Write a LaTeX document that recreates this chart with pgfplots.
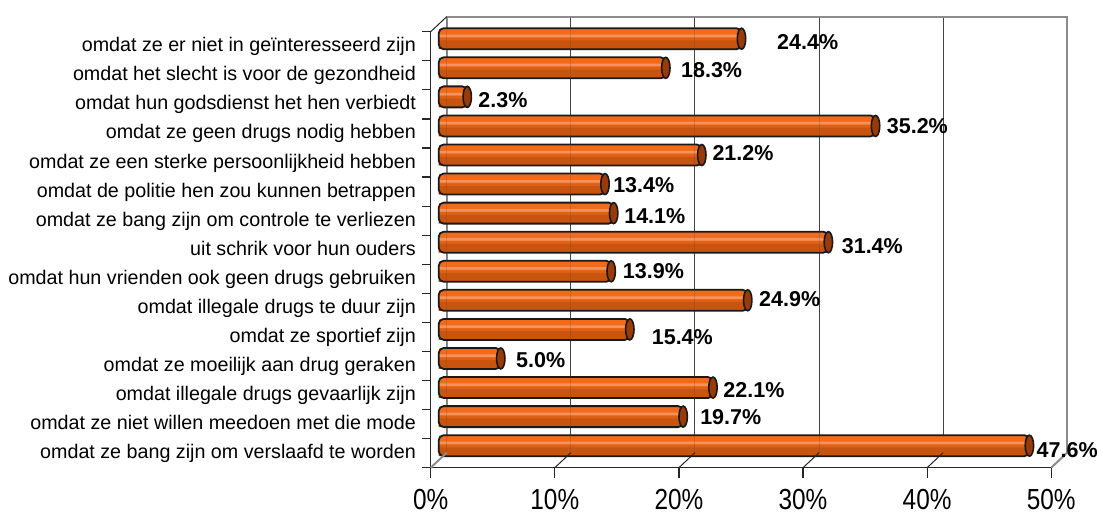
\documentclass[border=0pt]{standalone}
\usepackage{fontspec}
\setmainfont{Liberation Sans}
\usepackage{graphicx}
\usepackage{pgfplots}
\usepackage{pgfplotstable}
\pgfplotsset{compat=1.18}

\definecolor{barTop}{HTML}{F56A18}
\definecolor{barLow}{HTML}{C9540E}
\definecolor{barMid}{HTML}{DE6017}
\definecolor{barHi}{HTML}{F29462}
\definecolor{capC}{HTML}{9A3A08}
\definecolor{wallGrey}{HTML}{8C8C8C}
\definecolor{gridGrey}{HTML}{444444}

% y = row from the bottom, val = percentage
\pgfplotstableread{
y  val
1  47.6
2  19.7
3  22.1
4  5.0
5  15.4
6  24.9
7  13.9
8  31.4
9  14.1
10 13.4
11 21.2
12 35.2
13 2.3
14 18.3
15 24.4
}\drugdata

\begin{document}
\begin{tikzpicture}
\useasboundingbox (0,0) rectangle (1103pt,515pt);
\begin{axis}[
    at={(438.7pt,54.8pt)}, anchor=south west,
    scale only axis,
    width=620.5pt, height=436pt,
    xmin=0, xmax=50,
    ymin=0.5, ymax=15.5,
    axis line style={draw=none},
    tick style={draw=none},
    xtick={0,10,20,30,40,50},
    xticklabels={0\%,10\%,20\%,30\%,40\%,50\%},
    xticklabel style={anchor=north, inner sep=0pt, xshift=-8pt, yshift=-29pt,
        font=\fontsize{29}{32}\selectfont, xscale=0.84},
    ytick={1,...,15},
    yticklabels={
        omdat ze bang zijn om verslaafd te worden,
        omdat ze niet willen meedoen met die mode,
        omdat illegale drugs gevaarlijk zijn,
        omdat ze moeilijk aan drug geraken,
        omdat ze sportief zijn,
        omdat illegale drugs te duur zijn,
        omdat hun vrienden ook geen drugs gebruiken,
        uit schrik voor hun ouders,
        omdat ze bang zijn om controle te verliezen,
        omdat de politie hen zou kunnen betrappen,
        omdat ze een sterke persoonlijkheid hebben,
        omdat ze geen drugs nodig hebben,
        omdat hun godsdienst het hen verbiedt,
        omdat het slecht is voor de gezondheid,
        omdat ze er niet in geïnteresseerd zijn},
    yticklabel style={anchor=base east, inner sep=0pt, xshift=-22.7pt, yshift=-13pt,
        font=\fontsize{19.7}{22}\selectfont},
    clip=false,
    every axis plot/.append style={xbar, bar width=21pt, bar shift=0pt},
]

% --- back wall (drawn first, sits behind the bars) ---
\foreach \g in {10,20,30,40} {
  \edef\tmp{\noexpand\draw[gridGrey, line width=1pt]
    ([shift={(8pt,7.5pt)}]axis cs:\g,0.5) -- ([shift={(8pt,7.5pt)}]axis cs:\g,15.5);}
  \tmp
}
\draw[wallGrey, line width=2pt]
    ([shift={(8pt,7.5pt)}]axis cs:0,0.5) -- ([shift={(8pt,7.5pt)}]axis cs:0,15.5)
    -- ([shift={(8pt,7.5pt)}]axis cs:50,15.5) -- ([shift={(8pt,7.5pt)}]axis cs:50,0.5);

% --- bars: stacked stripes give the cylinder look ---
\addplot[fill=barTop, draw=none, rounded corners=5pt] table[x=val, y=y] {\drugdata};
\addplot[fill=barLow, draw=none, bar width=10pt, bar shift=-5.5pt] table[x=val, y=y] {\drugdata};
\addplot[fill=barMid, draw=none, bar width=2.5pt, bar shift=-0.5pt] table[x=val, y=y] {\drugdata};
\addplot[fill=barHi, draw=none, bar width=2.5pt, bar shift=2.8pt] table[x=val, y=y] {\drugdata};
\addplot[fill=none, draw=black!90, line width=1.8pt, rounded corners=5pt] table[x=val, y=y] {\drugdata};

% --- end caps of the cylinders ---
\addplot[xbar=false, only marks, mark=*, mark size=10.5pt,
         mark options={xscale=0.4, fill=capC, draw=black!90, line width=1.6pt}]
    table[x=val, y=y] {\drugdata};

% grid shows faintly through the bars
\foreach \g in {0,10,20,30} {
  \edef\tmp{\noexpand\draw[gridGrey, line width=1pt, opacity=0.22]
    ([shift={(8pt,7.5pt)}]axis cs:\g,0.5) -- ([shift={(8pt,7.5pt)}]axis cs:\g,15.5);}
  \tmp
}

% --- front frame: left wall edge, floor edge, ticks, floor diagonals ---
\draw[black!85, line width=1.2pt]
    ([shift={(-8pt,-7.5pt)}]axis cs:0,15.5) -- ([shift={(-8pt,-7.5pt)}]axis cs:0,0.5)
    -- ([shift={(-8pt,-7.5pt)}]axis cs:50,0.5);
\foreach \t in {0.5,1.5,...,15.5} {
  \edef\tmp{\noexpand\draw[black!85, line width=1.2pt]
    ([shift={(-8pt,-7.5pt)}]axis cs:0,\t) -- ([shift={(-17pt,-7.5pt)}]axis cs:0,\t);}
  \tmp
}
\foreach \g in {0,10,20,30,40,50} {
  \edef\tmp{\noexpand\draw[black!85, line width=1.2pt]
    ([shift={(-8pt,-7.5pt)}]axis cs:\g,0.5) -- ([shift={(-8pt,-17.5pt)}]axis cs:\g,0.5);}
  \tmp
}
\foreach \g in {10,20,30,40} {
  \edef\tmp{\noexpand\draw[black!85, line width=1pt]
    ([shift={(-8pt,-7.5pt)}]axis cs:\g,0.5) -- ([shift={(8pt,7.5pt)}]axis cs:\g,0.5);}
  \tmp
}
\draw[wallGrey, line width=2pt]
    ([shift={(-8pt,-7.5pt)}]axis cs:0,0.5) -- ([shift={(8pt,7.5pt)}]axis cs:0,0.5);
\draw[wallGrey, line width=2pt]
    ([shift={(-8pt,-7.5pt)}]axis cs:50,0.5) -- ([shift={(8pt,7.5pt)}]axis cs:50,0.5);
\draw[black!85, line width=1pt]
    ([shift={(-8pt,-7.5pt)}]axis cs:0,15.5) -- ([shift={(8pt,7.5pt)}]axis cs:0,15.5);

% --- value labels, at the spots the original places them ---
\addplot[xbar=false, draw=none, mark=none, point meta=explicit symbolic,
         nodes near coords,
         every node near coord/.append style={anchor=west, inner sep=0pt,
             font=\fontsize{21.5}{24}\selectfont\bfseries, text=black}]
    coordinates {
        (48.17,0.85) [47.6\%]
        (21.06,2.00) [19.7\%]
        (22.93,2.92) [22.1\%]
        (6.23,3.95)  [5.0\%]
        (17.16,4.75) [15.4\%]
        (25.81,6.04) [24.9\%]
        (14.83,6.99) [13.9\%]
        (32.47,7.85) [31.4\%]
        (14.94,8.90) [14.1\%]
        (14.05,9.97) [13.4\%]
        (22.05,11.06) [21.2\%]
        (36.10,12.00) [35.2\%]
        (3.19,12.89) [2.3\%]
        (19.52,13.92) [18.3\%]
        (27.26,14.90) [24.4\%]
    };

\end{axis}
\end{tikzpicture}
\end{document}
